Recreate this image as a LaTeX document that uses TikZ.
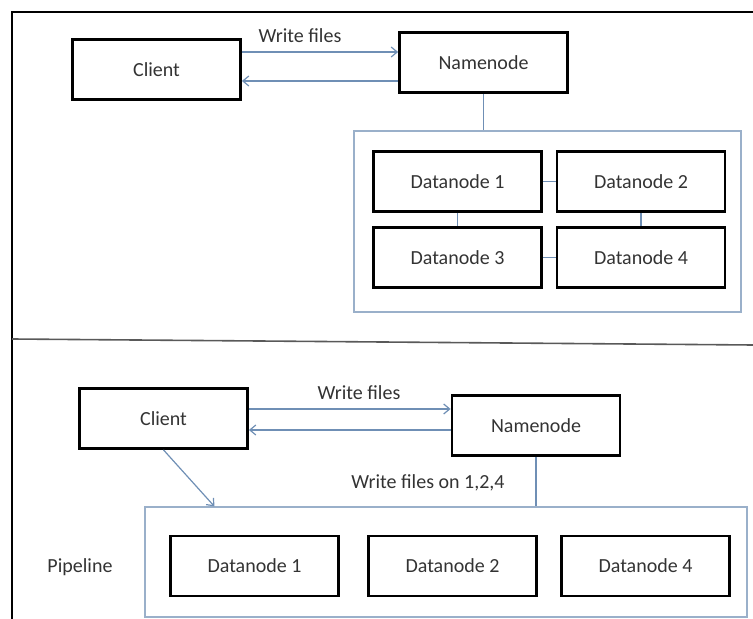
\documentclass[tikz,border=0pt]{standalone}
\usepackage{fontspec}
\setmainfont{Carlito}
\usetikzlibrary{arrows.meta,positioning,fit,calc}
\definecolor{linkblue}{HTML}{6F8FB5}
\definecolor{grpblue}{HTML}{9AB0CA}
\definecolor{textgray}{HTML}{333333}

\begin{document}
\begin{tikzpicture}[
  x=0.5pt,y=-0.5pt,
  font=\fontsize{10}{12}\selectfont,
  box/.style={draw,line width=1.4pt,minimum width=84pt,minimum height=30pt,inner sep=0pt,text=textgray},
  grp/.style={draw=grpblue,line width=0.6pt,inner sep=0pt},
  arr/.style={-{Straight Barb[length=3pt,width=5pt]},draw=linkblue,line width=0.6pt},
  lnk/.style={draw=linkblue,line width=0.6pt},
  ann/.style={text=textgray,inner sep=1pt}
]
\useasboundingbox (0,0) rectangle (753,619);

% frame and divider
\draw[line width=1.3pt] (753,12) -- (12,12) -- (12,619);
\draw[draw=gray!70!black,line width=0.8pt] (12,339) -- (753,345);

% upper part: plain write
\node[box] (cliA) at (156.5,69.5) {Client};
\node[box] (nnA)  at (483.5,62.5) {Namenode};
\node[grp,fit={(354,131) (741,312)}] (grpA) {};
\node[box] (dn1) at (457.5,181.5) {Datanode 1};
\node[box] (dn2) at (641,181.5)   {Datanode 2};
\node[box] (dn3) at (457.5,257.5) {Datanode 3};
\node[box] (dn4) at (641,257.5)   {Datanode 4};
\node[ann] (wfA) at (300,36) {Write files};

\coordinate (a1) at ($(cliA.east)+(0,-17.5)$);
\coordinate (b1) at ($(cliA.east)+(0,11.5)$);
\draw[arr] (a1) -- (a1 -| nnA.west);
\draw[arr] (b1 -| nnA.west) -- (b1);
\draw[lnk] (nnA.south) -- (nnA.south |- grpA.north);
\draw[lnk] (dn1) -- (dn2);
\draw[lnk] (dn3) -- (dn4);
\draw[lnk] (dn1) -- (dn3);
\draw[lnk] (dn2) -- (dn4);

% lower part: pipeline
\node[box] (cliB) at (163.5,418.5) {Client};
\node[box] (nnB)  at (536,425.5)   {Namenode};
\node[grp,fit={(145,507) (747,617)}] (grpB) {};
\node[box] (dp1) at (254.5,566) {Datanode 1};
\node[box] (dp2) at (452.5,566) {Datanode 2};
\node[box] (dp4) at (645.5,566) {Datanode 4};
\node[ann] (wfB)  at (359,393) {Write files};
\node[ann] (wfC)  at (428,483) {Write files on 1,2,4};
\node[ann] (pipe) at (80,567)  {Pipeline};

\coordinate (a2) at ($(cliB.east)+(0,-9.5)$);
\coordinate (b2) at ($(cliB.east)+(0,11.5)$);
\draw[arr] (a2) -- (a2 -| nnB.west);
\draw[arr] (b2 -| nnB.west) -- (b2);
\draw[arr] (cliB.south) -- ([xshift=35pt]grpB.north west);
\draw[lnk] (nnB.south) -- (nnB.south |- grpB.north);
\end{tikzpicture}
\end{document}
